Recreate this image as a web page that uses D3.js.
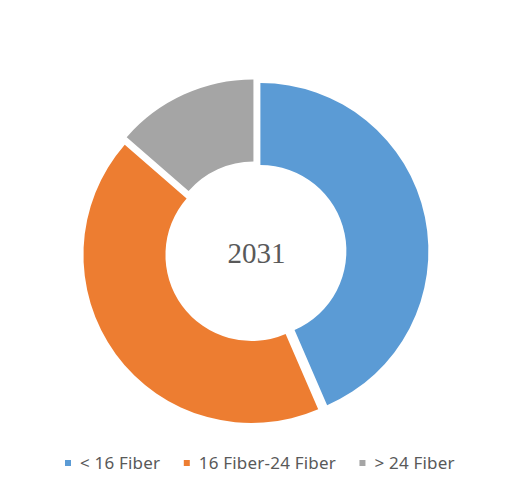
<!DOCTYPE html>
<html><head><meta charset="utf-8">
<script src="https://cdn.jsdelivr.net/npm/d3@7"></script>
<style>html,body{margin:0;padding:0;background:#fff;}svg{display:block;}</style>
</head><body>
<svg id="chart" width="510" height="492"></svg>
<script>
const categories = ["< 16 Fiber", "16 Fiber-24 Fiber", "> 24 Fiber"];
const values = [43.5, 42.9, 13.6];
const colors = ["#5B9BD5", "#ED7D31", "#A5A5A5"];
const centerLabel = "2031";

const svg = d3.select("#chart");
const cx = 255.5, cy = 252, R = 168, r = 86, explode = 5;

const pie = d3.pie().sort(null).value(d => d)(values);
const arc = d3.arc().innerRadius(r).outerRadius(R);
const g = svg.append("g").attr("transform", `translate(${cx},${cy})`);
g.selectAll("path").data(pie).join("path")
  .attr("d", arc)
  .attr("fill", (d, i) => colors[i])
  .attr("transform", d => {
    const m = (d.startAngle + d.endAngle) / 2;
    return `translate(${explode * Math.sin(m)},${-explode * Math.cos(m)})`;
  });

g.append("text").attr("text-anchor", "middle").attr("x", 1).attr("y", 11)
  .attr("font-family", "'Liberation Serif', 'DejaVu Serif', serif")
  .attr("font-size", 29).attr("fill", "#595959").text(centerLabel);

// legend
const leg = svg.append("g");
let x = 65;
const ly = 463;
categories.forEach((c, i) => {
  leg.append("rect").attr("x", x).attr("y", ly - 3).attr("width", 6).attr("height", 6).attr("fill", colors[i]);
  const t = leg.append("text").attr("x", x + 15).attr("y", ly + 6)
    .attr("font-family", "'Noto Sans', sans-serif").attr("font-size", 17)
    .attr("letter-spacing", 0.2)
    .attr("fill", "#595959").text(c);
  x = x + 15 + t.node().getComputedTextLength() + 23.5;
});
</script>
</body></html>
